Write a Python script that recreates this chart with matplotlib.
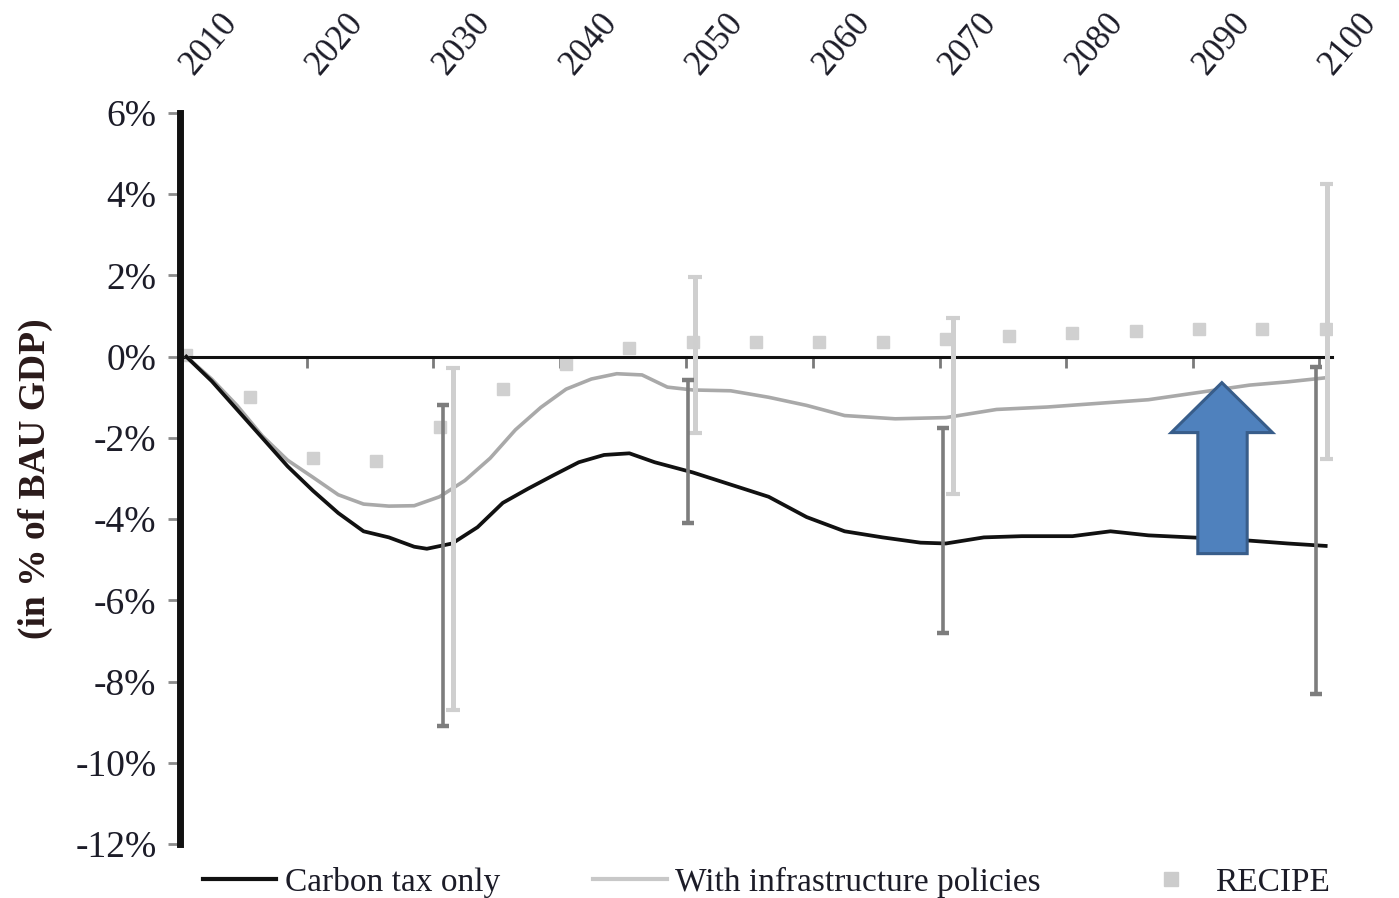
import matplotlib
matplotlib.use("Agg")
import matplotlib.pyplot as plt
from matplotlib.lines import Line2D
from matplotlib.patches import Polygon
from matplotlib.transforms import ScaledTranslation

# ---------------- data ----------------
carbon_years = [2010, 2012, 2014, 2016, 2018, 2020, 2022, 2024, 2026, 2028, 2029,
                2031, 2033, 2035, 2037, 2039, 2041, 2043, 2045, 2047, 2050, 2053,
                2056, 2059, 2062, 2065, 2068, 2070, 2073, 2076, 2080, 2083, 2086,
                2090, 2094, 2097, 2100]
carbon_vals = [0.0, -0.6, -1.3, -2.0, -2.7, -3.3, -3.85, -4.3, -4.45, -4.68, -4.73,
               -4.6, -4.2, -3.6, -3.25, -2.92, -2.6, -2.42, -2.38, -2.6, -2.85, -3.15,
               -3.45, -3.95, -4.3, -4.45, -4.58, -4.6, -4.45, -4.42, -4.42, -4.3, -4.4,
               -4.46, -4.53, -4.6, -4.66]

infra_years = [2010, 2012, 2014, 2016, 2018, 2020, 2022, 2024, 2026, 2028, 2030,
               2032, 2034, 2036, 2038, 2040, 2042, 2044, 2046, 2048, 2050, 2053,
               2056, 2059, 2062, 2066, 2070, 2074, 2078, 2082, 2086, 2090, 2094,
               2097, 2100]
infra_vals = [0.0, -0.55, -1.2, -1.95, -2.55, -2.97, -3.4, -3.63, -3.68, -3.67, -3.45,
              -3.05, -2.5, -1.8, -1.25, -0.8, -0.55, -0.42, -0.45, -0.75, -0.82, -0.84,
              -1.0, -1.2, -1.45, -1.53, -1.5, -1.3, -1.24, -1.15, -1.06, -0.88, -0.7,
              -0.62, -0.52]

recipe_years = [2010, 2015, 2020, 2025, 2030, 2035, 2040, 2045, 2050, 2055, 2060,
                2065, 2070, 2075, 2080, 2085, 2090, 2095, 2100]
recipe_vals = [0.05, -1.0, -2.5, -2.56, -1.72, -0.79, -0.17, 0.22, 0.37, 0.37, 0.37,
               0.37, 0.44, 0.52, 0.59, 0.64, 0.69, 0.69, 0.69]

# uncertainty ranges (low, high)
carbon_err_x = [2030.3, 2049.6, 2069.8, 2099.2]
carbon_err_low = [-9.1, -4.1, -6.8, -8.3]
carbon_err_high = [-1.2, -0.57, -1.75, -0.25]

infra_err_x = [2031.1, 2050.2, 2070.6, 2100.1]
infra_err_low = [-8.7, -1.87, -3.37, -2.52]
infra_err_high = [-0.27, 1.95, 0.96, 4.26]

label_years = list(range(2010, 2101, 10))
y_ticks = [6, 4, 2, 0, -2, -4, -6, -8, -10, -12]

legend_labels = ["Carbon tax only", "With infrastructure policies", "RECIPE"]
y_label = "(in % of BAU GDP)"

# ---------------- style ----------------
plt.rcParams['font.family'] = ['Liberation Serif', 'DejaVu Serif']
TXT = '#1c1c28'
BLACK_LINE = '#111111'
GRAY_LINE = '#a9a9a9'
RECIPE_C = '#d0d0d0'

fig = plt.figure(figsize=(13.99, 8.98), dpi=100)
ax = fig.add_axes([180 / 1399, 1 - 844 / 898, (1332 - 180) / 1399, (844 - 113) / 898])

ax.set_xlim(2009.5, 2100.5)
ax.set_ylim(-12, 6)

# RECIPE points
ax.plot(recipe_years, recipe_vals, ls='none', marker='s', ms=8, color=RECIPE_C,
        mec=RECIPE_C, zorder=2)

# lines
ax.plot(infra_years, infra_vals, color=GRAY_LINE, lw=2.6, zorder=3)
ax.plot(carbon_years, carbon_vals, color=BLACK_LINE, lw=2.7, zorder=3)

# error bars
def draw_range(xs, lows, highs, lc, lw, cc, cs, ct, z):
    mids = [(l + h) / 2 for l, h in zip(lows, highs)]
    half = [(h - l) / 2 for l, h in zip(lows, highs)]
    _, caps, _ = ax.errorbar(xs, mids, yerr=half, fmt='none', ecolor=lc,
                             elinewidth=lw, capsize=cs, capthick=ct, zorder=z)
    for c in caps:
        c.set_color(cc)
        c.set_zorder(z + 0.1)

draw_range(infra_err_x, infra_err_low, infra_err_high, '#cfcfcf', 3.6, '#b2b2b2', 5, 3, 4)
draw_range(carbon_err_x, carbon_err_low, carbon_err_high, '#7d7d7d', 2.6, '#111111', 4.5, 3.2, 5)

# blue arrow annotation
arrow = Polygon([(2091.8, -0.64), (2095.8, -1.87), (2093.8, -1.87), (2093.8, -4.85),
                 (2089.9, -4.85), (2089.9, -1.87), (2087.8, -1.87)],
                closed=True, facecolor='#4f81bd', edgecolor='#385d8a', lw=2.2, zorder=6)
ax.add_patch(arrow)

# spines
for s in ['top', 'right']:
    ax.spines[s].set_visible(False)
ax.spines['left'].set_linewidth(5)
ax.spines['left'].set_color('#111111')
ax.spines['bottom'].set_position(('data', 0))
ax.spines['bottom'].set_linewidth(2.2)
ax.spines['bottom'].set_color('#111111')
ax.spines['bottom'].set_zorder(2.5)

# y ticks
ax.set_yticks(y_ticks)
ax.set_yticklabels([f"{v}%" for v in y_ticks])
ax.tick_params(axis='y', direction='out', length=9, width=2, color='#8c8c8c',
               labelsize=27, labelcolor=TXT, pad=8)

# x ticks: labels at category centres on top, marks at boundaries on zero line
ax.set_xticks(label_years)
ax.set_xticklabels([str(y) for y in label_years])
ax.tick_params(axis='x', which='major', bottom=False, top=False, labelbottom=False,
               labeltop=True, length=0, labelsize=25, labelcolor=TXT, pad=27)
shift = ScaledTranslation(7 / 100, 0, fig.dpi_scale_trans)
for t in ax.xaxis.get_major_ticks():
    t.label2.set_rotation(50)
    t.label2.set_ha('left')
    t.label2.set_va('baseline')
    t.label2.set_rotation_mode('anchor')
    t.label2.set_transform(t.label2.get_transform() + shift)
ax.set_xticks([y - 0.5 for y in label_years[1:]], minor=True)
ax.tick_params(axis='x', which='minor', bottom=True, top=False, direction='out',
               length=8, width=2, color='#7a7a7a')

ax.set_ylabel(y_label, fontsize=27, fontweight='bold', color='#2a1a1a', labelpad=16)

# legend
handles = [Line2D([], [], color=BLACK_LINE, lw=3),
           Line2D([], [], color='#c8c8c8', lw=3),
           Line2D([], [], ls='none', marker='s', ms=10, color='#cccccc')]
leg = fig.legend(handles, legend_labels, loc='center left',
                 bbox_to_anchor=(203 / 1399, 1 - 882 / 898), ncol=3, frameon=False,
                 fontsize=24, handlelength=2.2, handletextpad=0.25, columnspacing=2.8,
                 borderpad=0, borderaxespad=0)
for t in leg.get_texts():
    t.set_color(TXT)

fig.savefig('out.png', dpi=100)
